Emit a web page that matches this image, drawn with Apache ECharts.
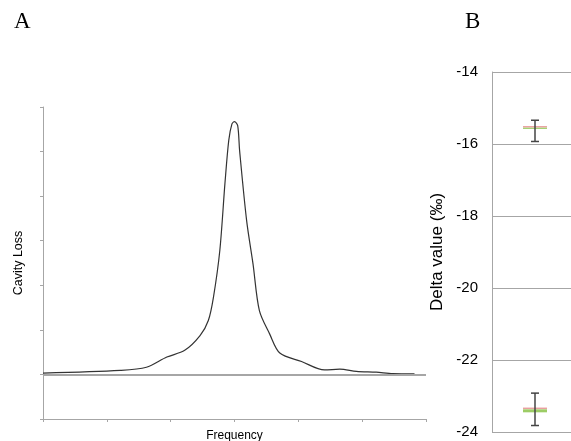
<!DOCTYPE html>
<html>
<head>
<meta charset="utf-8">
<script src="https://cdn.jsdelivr.net/npm/echarts@6/dist/echarts.min.js"></script>
<style>
  html, body { margin: 0; padding: 0; background: #fff; }
  #chart { width: 571px; height: 441px; }
</style>
</head>
<body>
<div id="chart"></div>
<script>
// Panel A: cavity loss spectrum (arbitrary units)
const freq = [0, 1.21, 1.62, 1.94, 2.22, 2.46, 2.59, 2.67, 2.77, 2.85, 2.91, 2.96, 3.0, 3.05, 3.08, 3.19, 3.29, 3.39, 3.55, 3.71, 4.05, 4.41, 4.65, 4.91, 5.22, 5.48, 5.82];
const loss = [0.03, 0.09, 0.16, 0.39, 0.54, 0.87, 1.21, 1.73, 2.78, 4.28, 5.25, 5.62, 5.67, 5.58, 5.02, 3.45, 2.48, 1.43, 0.91, 0.48, 0.29, 0.10, 0.12, 0.07, 0.05, 0.02, 0.015];

// Panel B: delta values with error bars
const deltaX = [1, 1];
const deltaMean = [-15.55, -23.37];
const deltaLow = [-15.93, -23.82];
const deltaHigh = [-15.34, -22.92];
const deltaTicks = [-24, -22, -20, -18, -16, -14];

const axisGray = '#a6a6a6';

const chart = echarts.init(document.getElementById('chart'));
chart.setOption({
  animation: false,
  textStyle: { fontFamily: 'Liberation Sans, Arial, sans-serif' },
  title: [
    { text: 'A', left: 9, top: 5, textStyle: { fontFamily: 'Liberation Serif, serif', fontSize: 23, fontWeight: 'normal', color: '#000' } },
    { text: 'B', left: 460, top: 5, textStyle: { fontFamily: 'Liberation Serif, serif', fontSize: 23, fontWeight: 'normal', color: '#000' } }
  ],
  grid: [
    { left: 43, top: 107, width: 383, height: 312, outerBoundsMode: 'none', containLabel: false },
    { left: 492, top: 72, width: 86, height: 360, outerBoundsMode: 'none', containLabel: false }
  ],
  xAxis: [
    {
      gridIndex: 0, type: 'value', min: 0, max: 6, interval: 1,
      name: 'Frequency', nameLocation: 'middle', nameGap: 11,
      nameTextStyle: { fontSize: 12, color: '#000' },
      axisLine: { onZero: false, lineStyle: { color: axisGray, width: 1 } },
      axisTick: { show: true, length: 3, lineStyle: { color: axisGray } },
      axisLabel: { show: false },
      splitLine: { show: false }
    },
    {
      gridIndex: 1, type: 'value', min: 0, max: 2,
      axisLine: { show: false }, axisTick: { show: false },
      axisLabel: { show: false }, splitLine: { show: false }
    }
  ],
  yAxis: [
    {
      gridIndex: 0, type: 'value', min: -1, max: 6, interval: 1,
      name: 'Cavity Loss', nameLocation: 'middle', nameGap: 18,
      nameTextStyle: { fontSize: 12.5, color: '#000' },
      axisLine: { show: true, lineStyle: { color: axisGray, width: 1 } },
      axisTick: { show: true, length: 3, lineStyle: { color: axisGray } },
      axisLabel: { show: false },
      splitLine: { show: false }
    },
    {
      gridIndex: 1, type: 'value', min: deltaTicks[0], max: deltaTicks[deltaTicks.length - 1], interval: 2,
      name: 'Delta value (‰)', nameLocation: 'middle', nameGap: 46,
      nameTextStyle: { fontSize: 17, color: '#000' },
      axisLine: { show: true, lineStyle: { color: axisGray, width: 1 } },
      axisTick: { show: false },
      axisLabel: { fontSize: 15, color: '#000', margin: 14 },
      splitLine: { show: true, lineStyle: { color: axisGray, width: 1 } }
    }
  ],
  series: [
    {
      type: 'line', xAxisIndex: 0, yAxisIndex: 0,
      data: freq.map((f, i) => [f, loss[i]]),
      smooth: 0.3, symbol: 'none',
      lineStyle: { color: '#333', width: 1.2 },
      markLine: {
        silent: true, symbol: 'none', label: { show: false },
        lineStyle: { color: axisGray, width: 2, type: 'solid' },
        data: [{ yAxis: 0 }]
      }
    },
    {
      type: 'custom', xAxisIndex: 1, yAxisIndex: 1,
      data: deltaX.map((x, i) => [x, deltaMean[i], deltaLow[i], deltaHigh[i], i]),
      renderItem: function (params, api) {
        const x = api.value(0);
        const mid = api.coord([x, api.value(1)]);
        const lo = api.coord([x, api.value(2)]);
        const hi = api.coord([x, api.value(3)]);
        const thick = api.value(4) === 1;
        const cap = 4, half = 12;
        const bar = { stroke: '#444', lineWidth: 1.5 };
        return {
          type: 'group',
          children: [
            { type: 'line', shape: { x1: mid[0] - half, y1: mid[1] - 1, x2: mid[0] + half, y2: mid[1] - 1 }, style: { stroke: '#e9a0a0', lineWidth: 1.5 } },
            { type: 'line', shape: { x1: mid[0] - half, y1: mid[1] + (thick ? 1.5 : 0.5), x2: mid[0] + half, y2: mid[1] + (thick ? 1.5 : 0.5) }, style: { stroke: '#9ccc65', lineWidth: thick ? 3 : 1.2 } },
            { type: 'line', shape: { x1: lo[0], y1: lo[1], x2: hi[0], y2: hi[1] }, style: bar },
            { type: 'line', shape: { x1: lo[0] - cap, y1: lo[1], x2: lo[0] + cap, y2: lo[1] }, style: bar },
            { type: 'line', shape: { x1: hi[0] - cap, y1: hi[1], x2: hi[0] + cap, y2: hi[1] }, style: bar }
          ]
        };
      }
    }
  ]
});
</script>
</body>
</html>
